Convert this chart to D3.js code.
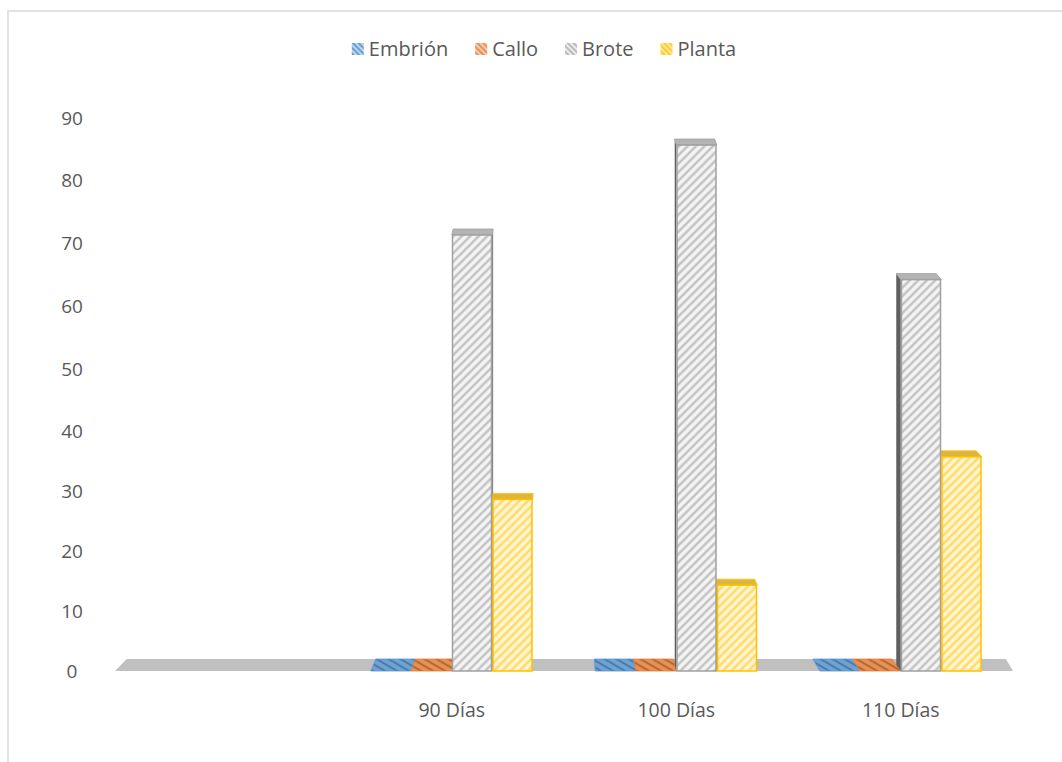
<!DOCTYPE html>
<html><head><meta charset="utf-8">
<script src="https://cdn.jsdelivr.net/npm/d3@7"></script>
<style>
html,body{margin:0;padding:0;background:#fff;}
svg{display:block;}
text{font-family:"Open Sans","Noto Sans",sans-serif;fill:#595959;}
</style></head>
<body><svg id="chart" width="1062" height="762"></svg>
<script>
// ---- data ----
const categories = ["", "90 Días", "100 Días", "110 Días"];
const seriesNames = ["Embrión", "Callo", "Brote", "Planta"];
const embrion = [null, 0, 0, 0];
const callo   = [null, 0, 0, 0];
const brote   = [null, 71.4, 85.7, 64.3];
const planta  = [null, 28.6, 14.3, 35.7];
const yTicks  = [0, 10, 20, 30, 40, 50, 60, 70, 80, 90];

// ---- styles ----
const styles = {
  "Embrión": {bg:"#9dc3e6", stripe:"#3d78b5", stroke:"#5b9bd5", top:"#6fa3d6", side:"#41719c", lbg:"#bcd6ee", lstripe:"#4a86c5"},
  "Callo":   {bg:"#f4b183", stripe:"#c55a11", stroke:"#ed7d31", top:"#e5925a", side:"#ae5a21", lbg:"#f8cbad", lstripe:"#e07a3a"},
  "Brote":   {bg:"#f4f4f4", stripe:"#bdbdbd", stroke:"#a0a0a0", top:"#b4b4b4", side:"#5f5f5f", lbg:"#ececec", lstripe:"#a5a5a5"},
  "Planta":  {bg:"#fff5d0", stripe:"#ffd75e", stroke:"#ffc000", top:"#dfb43a", side:"#b88f10", lbg:"#ffe699", lstripe:"#ffc000"}
};
const seriesData = {"Embrión":embrion, "Callo":callo, "Brote":brote, "Planta":planta};

const svg = d3.select("#chart");
const defs = svg.append("defs");
seriesNames.forEach((s,i)=>{
  const st = styles[s];
  const p = defs.append("pattern").attr("id","f"+i).attr("patternUnits","userSpaceOnUse")
    .attr("width",6).attr("height",6).attr("patternTransform","rotate(45)");
  p.append("rect").attr("width",6).attr("height",6).attr("fill",st.bg);
  p.append("line").attr("x1",1.5).attr("y1",0).attr("x2",1.5).attr("y2",6).attr("stroke",st.stripe).attr("stroke-width",2.2);
  const q = defs.append("pattern").attr("id","l"+i).attr("patternUnits","userSpaceOnUse")
    .attr("width",4).attr("height",4).attr("patternTransform","rotate(-45)");
  q.append("rect").attr("width",4).attr("height",4).attr("fill",st.lbg);
  q.append("line").attr("x1",1).attr("y1",0).attr("x2",1).attr("y2",4).attr("stroke",st.lstripe).attr("stroke-width",1.4);
  const t = defs.append("pattern").attr("id","t"+i).attr("patternUnits","userSpaceOnUse")
    .attr("width",6).attr("height",6).attr("patternTransform","rotate(-60)");
  t.append("rect").attr("width",6).attr("height",6).attr("fill",st.top);
  t.append("line").attr("x1",1.5).attr("y1",0).attr("x2",1.5).attr("y2",6).attr("stroke",st.side).attr("stroke-width",1.6);
});

// chart border
svg.append("path").attr("d","M8,762 L8,11 L1062,11").attr("fill","none").attr("stroke","#d9d9d9").attr("stroke-width",1.5);

// ---- scales ----
const x0 = d3.scaleBand().domain(categories).range([115,1013]).padding(0);
const groupW = 162;
const x1 = d3.scaleBand().domain(seriesNames).range([(x0.bandwidth()-groupW)/2,(x0.bandwidth()+groupW)/2]);
const y = d3.scaleLinear().domain([0,45,90]).range([671,401,118]);

const floorDepth = 12, topDepth = 6, vx = 560, kPersp = 0.0022;
const shift = (x,d)=> (vx - x)*kPersp*d;

// floor
const fy = y(0), fl = x0.range()[0], fr = x0.range()[1];
svg.append("path")
  .attr("d",`M${fl},${fy} L${fl+shift(fl,floorDepth)},${fy-floorDepth} L${fr+shift(fr,floorDepth)*0.6},${fy-floorDepth} L${fr},${fy} Z`)
  .attr("fill","#c0c0c0");

// bars
const bars = [];
categories.forEach((c,ci)=>{
  seriesNames.forEach((s,si)=>{
    const v = seriesData[s][ci];
    if (v===null) return;
    const xl = x0(c)+x1(s), xr = xl + x1.bandwidth();
    bars.push({c,s,si,v,xl,xr});
  });
});

const gBack = svg.append("g"), gFront = svg.append("g");
bars.forEach(b=>{
  const st = styles[b.s];
  const yt = y(b.v), yb = y(0);
  if (b.v === 0) {
    const d = floorDepth;
    gBack.append("path")
      .attr("d",`M${b.xl},${yb} L${b.xl+shift(b.xl,d)},${yb-d} L${b.xr+shift(b.xr,d)},${yb-d} L${b.xr},${yb} Z`)
      .attr("fill",`url(#t${b.si})`).attr("stroke",st.stroke).attr("stroke-width",0.8);
    return;
  }
  const dl = shift(b.xl,topDepth), dr = shift(b.xr,topDepth);
  // side face (uniform strip)
  if (dl < -0.5) {
    gBack.append("path")
      .attr("d",`M${b.xl},${yt} L${b.xl+dl},${yt-topDepth} L${b.xl+dl},${yb-topDepth} L${b.xl},${yb} Z`)
      .attr("fill",st.side);
  } else if (dr > 0.5) {
    gBack.append("path")
      .attr("d",`M${b.xr},${yt} L${b.xr+dr},${yt-topDepth} L${b.xr+dr},${yb-topDepth} L${b.xr},${yb} Z`)
      .attr("fill",st.side);
  }
  // top face
  gBack.append("path")
    .attr("d",`M${b.xl},${yt} L${b.xl+dl},${yt-topDepth} L${b.xr+dr},${yt-topDepth} L${b.xr},${yt} Z`)
    .attr("fill",st.top).attr("stroke",st.stroke).attr("stroke-width",0.8);
  // front
  gFront.append("rect")
    .attr("x",b.xl+0.75).attr("y",yt).attr("width",b.xr-b.xl-1.5).attr("height",yb-yt)
    .attr("fill",`url(#f${b.si})`).attr("stroke",st.stroke).attr("stroke-width",1.5);
});

// y axis
const ax = svg.append("g").attr("transform","translate(72,0)")
  .call(d3.axisLeft(y).tickValues(yTicks).tickSize(0).tickFormat(d3.format("d")));
ax.select(".domain").remove();
ax.selectAll("text").attr("x",0).attr("text-anchor","middle")
  .style("font-family",'"Open Sans","Noto Sans",sans-serif').style("font-size","19px").attr("fill","#595959");

// x axis labels
const xa = svg.append("g").attr("transform","translate(0,700)")
  .call(d3.axisBottom(x0).tickSize(0));
xa.select(".domain").remove();
xa.selectAll("text").attr("dy","0.71em")
  .style("font-family",'"Open Sans","Noto Sans",sans-serif').style("font-size","19.5px").attr("fill","#595959");

// legend
const lg = svg.append("g");
let lx = 0;
seriesNames.forEach((s,i)=>{
  const g = lg.append("g");
  g.append("rect").attr("x",lx).attr("y",-6).attr("width",12).attr("height",12).attr("fill",`url(#l${i})`);
  const t = g.append("text").attr("x",lx+17).attr("y",0).attr("dy","0.35em")
    .style("font-size","20px").text(s);
  lx += 17 + t.node().getComputedTextLength() + 27;
});
const totalW = lx - 27;
lg.attr("transform",`translate(${544 - totalW/2},49)`);
</script></body></html>
